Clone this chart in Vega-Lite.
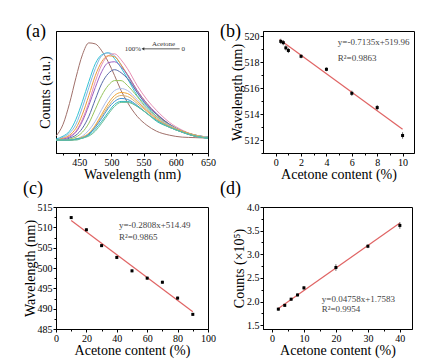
{
  "$schema": "https://vega.github.io/schema/vega-lite/v6.json",
  "background": "white",
  "padding": {"left": 22, "top": 22, "right": 5, "bottom": 5},
  "bounds": "flush",
  "columns": 2,
  "spacing": {"row": 54, "column": 55},
  "datasets": {
    "spec": [
      {"x": 414, "c1": 0.05, "c2": 0.02, "c3": 0.01, "c4": 0.01, "c5": 0.01, "c6": 0.01, "c7": 0.01, "c8": 0.01, "c9": 0.01, "c10": 0.01, "c11": 0.01, "c12": 0.01, "c13": 0.01, "c14": 0.01},
      {"x": 425, "c1": 0.17, "c2": 0.05, "c3": 0.04, "c4": 0.02, "c5": 0.03, "c6": 0.02, "c7": 0.01, "c8": 0.01, "c9": 0.01, "c10": 0.01, "c11": 0.01, "c12": 0.01, "c13": 0.01, "c14": 0.01},
      {"x": 435, "c1": 0.38, "c2": 0.10, "c3": 0.08, "c4": 0.05, "c5": 0.06, "c6": 0.04, "c7": 0.03, "c8": 0.02, "c9": 0.01, "c10": 0.01, "c11": 0.01, "c12": 0.01, "c13": 0.01, "c14": 0.01},
      {"x": 445, "c1": 0.64, "c2": 0.22, "c3": 0.17, "c4": 0.10, "c5": 0.13, "c6": 0.09, "c7": 0.06, "c8": 0.04, "c9": 0.02, "c10": 0.02, "c11": 0.02, "c12": 0.02, "c13": 0.02, "c14": 0.01},
      {"x": 455, "c1": 0.87, "c2": 0.40, "c3": 0.34, "c4": 0.22, "c5": 0.27, "c6": 0.20, "c7": 0.13, "c8": 0.09, "c9": 0.05, "c10": 0.04, "c11": 0.04, "c12": 0.03, "c13": 0.03, "c14": 0.03},
      {"x": 465, "c1": 0.99, "c2": 0.60, "c3": 0.54, "c4": 0.39, "c5": 0.46, "c6": 0.36, "c7": 0.25, "c8": 0.18, "c9": 0.11, "c10": 0.08, "c11": 0.07, "c12": 0.07, "c13": 0.06, "c14": 0.05},
      {"x": 475, "c1": 0.98, "c2": 0.78, "c3": 0.73, "c4": 0.60, "c5": 0.66, "c6": 0.54, "c7": 0.42, "c8": 0.32, "c9": 0.20, "c10": 0.16, "c11": 0.15, "c12": 0.14, "c13": 0.12, "c14": 0.10},
      {"x": 485, "c1": 0.91, "c2": 0.87, "c3": 0.86, "c4": 0.77, "c5": 0.80, "c6": 0.70, "c7": 0.58, "c8": 0.46, "c9": 0.32, "c10": 0.27, "c11": 0.25, "c12": 0.23, "c13": 0.20, "c14": 0.18},
      {"x": 495, "c1": 0.80, "c2": 0.89, "c3": 0.89, "c4": 0.86, "c5": 0.86, "c6": 0.79, "c7": 0.68, "c8": 0.56, "c9": 0.43, "c10": 0.38, "c11": 0.35, "c12": 0.33, "c13": 0.29, "c14": 0.27},
      {"x": 505, "c1": 0.66, "c2": 0.83, "c3": 0.86, "c4": 0.88, "c5": 0.85, "c6": 0.80, "c7": 0.72, "c8": 0.61, "c9": 0.51, "c10": 0.46, "c11": 0.43, "c12": 0.40, "c13": 0.37, "c14": 0.35},
      {"x": 515, "c1": 0.51, "c2": 0.74, "c3": 0.77, "c4": 0.82, "c5": 0.77, "c6": 0.75, "c7": 0.69, "c8": 0.61, "c9": 0.53, "c10": 0.49, "c11": 0.46, "c12": 0.43, "c13": 0.40, "c14": 0.39},
      {"x": 525, "c1": 0.39, "c2": 0.63, "c3": 0.66, "c4": 0.73, "c5": 0.67, "c6": 0.67, "c7": 0.63, "c8": 0.56, "c9": 0.51, "c10": 0.48, "c11": 0.45, "c12": 0.42, "c13": 0.40, "c14": 0.39},
      {"x": 540, "c1": 0.25, "c2": 0.46, "c3": 0.49, "c4": 0.56, "c5": 0.51, "c6": 0.51, "c7": 0.49, "c8": 0.45, "c9": 0.42, "c10": 0.40, "c11": 0.38, "c12": 0.36, "c13": 0.35, "c14": 0.35},
      {"x": 555, "c1": 0.16, "c2": 0.35, "c3": 0.37, "c4": 0.42, "c5": 0.38, "c6": 0.38, "c7": 0.36, "c8": 0.33, "c9": 0.32, "c10": 0.31, "c11": 0.30, "c12": 0.28, "c13": 0.28, "c14": 0.28},
      {"x": 570, "c1": 0.10, "c2": 0.25, "c3": 0.27, "c4": 0.31, "c5": 0.27, "c6": 0.28, "c7": 0.27, "c8": 0.25, "c9": 0.24, "c10": 0.23, "c11": 0.22, "c12": 0.21, "c13": 0.20, "c14": 0.21},
      {"x": 590, "c1": 0.06, "c2": 0.15, "c3": 0.16, "c4": 0.19, "c5": 0.17, "c6": 0.17, "c7": 0.17, "c8": 0.16, "c9": 0.16, "c10": 0.15, "c11": 0.15, "c12": 0.14, "c13": 0.14, "c14": 0.14},
      {"x": 610, "c1": 0.04, "c2": 0.09, "c3": 0.09, "c4": 0.11, "c5": 0.10, "c6": 0.10, "c7": 0.10, "c8": 0.10, "c9": 0.10, "c10": 0.10, "c11": 0.09, "c12": 0.09, "c13": 0.09, "c14": 0.09},
      {"x": 630, "c1": 0.035, "c2": 0.05, "c3": 0.05, "c4": 0.06, "c5": 0.05, "c6": 0.06, "c7": 0.06, "c8": 0.06, "c9": 0.06, "c10": 0.06, "c11": 0.06, "c12": 0.05, "c13": 0.05, "c14": 0.05},
      {"x": 650, "c1": 0.03, "c2": 0.03, "c3": 0.03, "c4": 0.04, "c5": 0.04, "c6": 0.04, "c7": 0.04, "c8": 0.04, "c9": 0.04, "c10": 0.03, "c11": 0.03, "c12": 0.03, "c13": 0.03, "c14": 0.03}
    ],
    "aArrow": [{"x": 549, "x2": 606, "y": 0.93}],
    "aLeft": [{"x": 546, "y": 0.93, "t": "100%"}],
    "aMid": [{"x": 581, "y": 0.98, "t": "Acetone"}],
    "aRight": [{"x": 609, "y": 0.93, "t": "0"}],
    "b": [
      {"x": 0.4, "y": 519.6, "lo": 519.4, "hi": 519.8},
      {"x": 0.6, "y": 519.5, "lo": 519.3, "hi": 519.7},
      {"x": 0.8, "y": 519.1, "lo": 518.9, "hi": 519.3},
      {"x": 1.0, "y": 518.9, "lo": 518.7, "hi": 519.1},
      {"x": 2, "y": 518.45, "lo": 518.3, "hi": 518.6},
      {"x": 4, "y": 517.45, "lo": 517.3, "hi": 517.6},
      {"x": 6, "y": 515.6, "lo": 515.4, "hi": 515.8},
      {"x": 8, "y": 514.5, "lo": 514.3, "hi": 514.7},
      {"x": 10, "y": 512.35, "lo": 512.1, "hi": 512.6}
    ],
    "bfit": [{"x": 0.3, "y": 519.75}, {"x": 10, "y": 512.83}],
    "bt": [{"x": 4.9, "y": 519.55, "t": "y=-0.7135x+519.96"}, {"x": 4.9, "y": 518.32, "t": "R²=0.9863"}],
    "c": [
      {"x": 10, "y": 512.4, "lo": 512.05, "hi": 512.75},
      {"x": 20, "y": 509.4, "lo": 509.05, "hi": 509.75},
      {"x": 30, "y": 505.5, "lo": 505.15, "hi": 505.85},
      {"x": 40, "y": 502.6, "lo": 502.2, "hi": 503.0},
      {"x": 50, "y": 499.3, "lo": 498.95, "hi": 499.65},
      {"x": 60, "y": 497.5, "lo": 497.15, "hi": 497.85},
      {"x": 70, "y": 496.5, "lo": 496.15, "hi": 496.85},
      {"x": 80, "y": 492.6, "lo": 492.25, "hi": 492.95},
      {"x": 90, "y": 488.6, "lo": 488.25, "hi": 488.95}
    ],
    "cfit": [{"x": 10, "y": 511.68}, {"x": 90, "y": 489.22}],
    "ct": [{"x": 41.4, "y": 510.6, "t": "y=-0.2808x+514.49"}, {"x": 41.4, "y": 507.6, "t": "R²=0.9865"}],
    "d": [
      {"x": 2, "y": 1.84, "lo": 1.81, "hi": 1.87},
      {"x": 4, "y": 1.92, "lo": 1.89, "hi": 1.95},
      {"x": 6, "y": 2.05, "lo": 2.02, "hi": 2.08},
      {"x": 8, "y": 2.14, "lo": 2.11, "hi": 2.17},
      {"x": 10, "y": 2.29, "lo": 2.25, "hi": 2.33},
      {"x": 20, "y": 2.72, "lo": 2.65, "hi": 2.79},
      {"x": 30, "y": 3.17, "lo": 3.13, "hi": 3.21},
      {"x": 40, "y": 3.61, "lo": 3.54, "hi": 3.68}
    ],
    "dfit": [{"x": 2, "y": 1.853}, {"x": 40, "y": 3.661}],
    "dt": [{"x": 15.6, "y": 2.05, "t": "y=0.04758x+1.7583"}, {"x": 15.6, "y": 1.85, "t": "R²=0.9954"}]
  },
  "concat": [
    {
      "width": 152,
      "height": 122,
      "title": {"text": "(a)", "dx": -30, "offset": -10},
      "encoding": {
        "x": {"field": "x", "type": "quantitative", "scale": {"domain": [414, 650], "nice": false, "zero": false},
          "axis": {"title": "Wavelength (nm)", "values": [425, 450, 475, 500, 525, 550, 575, 600, 625, 650], "labelExpr": "datum.value % 50 == 0 ? datum.label : ''", "tickSize": {"condition": {"test": "datum.value % 50 == 0", "value": 3}, "value": 2}, "labelOverlap": false, "labelFlush": false}},
        "y": {"field": "y", "type": "quantitative", "scale": {"domain": [-0.12, 1.11], "nice": false, "zero": false},
          "axis": {"title": "Counts (a.u.)", "labels": false, "ticks": false, "titlePadding": 4}}
      },
      "layer": [
        {
          "data": {"name": "spec"},
          "transform": [{"fold": ["c1", "c2", "c3", "c4", "c5", "c6", "c7", "c8", "c9", "c10", "c11", "c12", "c13", "c14"], "as": ["key", "y"]}],
          "mark": {"type": "line", "strokeWidth": 1, "interpolate": "monotone"},
          "encoding": {
            "color": {"field": "key", "type": "nominal", "legend": null,
              "scale": {"domain": ["c1", "c2", "c3", "c4", "c5", "c6", "c7", "c8", "c9", "c10", "c11", "c12", "c13", "c14"],
                "range": ["#a0706a", "#33c3d6", "#82b4e0", "#e88fb4", "#e99a3c", "#9b62c4", "#586aa8", "#97c45c", "#aebde8", "#f0a53a", "#d9b070", "#3f8fd2", "#2fb9bd", "#6cbf98"]}}
          }
        },
        {"data": {"name": "aArrow"}, "mark": {"type": "rule", "color": "#333", "strokeWidth": 0.8}, "encoding": {"x2": {"field": "x2"}}},
        {"data": {"name": "aArrow"}, "mark": {"type": "point", "shape": "triangle-left", "filled": true, "color": "#333", "size": 10, "opacity": 1}},
        {"data": {"name": "aLeft"}, "mark": {"type": "text", "align": "right", "baseline": "middle", "fontSize": 7, "color": "#333"}, "encoding": {"text": {"field": "t"}}},
        {"data": {"name": "aMid"}, "mark": {"type": "text", "align": "center", "baseline": "middle", "fontSize": 7, "color": "#333"}, "encoding": {"text": {"field": "t"}}},
        {"data": {"name": "aRight"}, "mark": {"type": "text", "align": "left", "baseline": "middle", "fontSize": 7, "color": "#333"}, "encoding": {"text": {"field": "t"}}}
      ]
    },
    {
      "width": 151,
      "height": 122,
      "title": {"text": "(b)", "dx": -43, "offset": -10},
      "encoding": {
        "x": {"field": "x", "type": "quantitative", "scale": {"domain": [-1, 10.9], "nice": false, "zero": false},
          "axis": {"title": "Acetone content (%)", "values": [0, 1, 2, 3, 4, 5, 6, 7, 8, 9, 10], "labelExpr": "datum.value % 2 == 0 ? datum.label : ''", "tickSize": {"condition": {"test": "datum.value % 2 == 0", "value": 3}, "value": 2}, "labelOverlap": false, "labelFlush": false}},
        "y": {"field": "y", "type": "quantitative", "scale": {"domain": [511, 520.4], "nice": false, "zero": false},
          "axis": {"title": "Wavelength (nm)", "values": [511, 512, 513, 514, 515, 516, 517, 518, 519, 520], "labelExpr": "datum.value % 2 == 0 ? datum.label : ''", "tickSize": {"condition": {"test": "datum.value % 2 == 0", "value": 3}, "value": 2}, "labelOverlap": false, "labelFlush": false}}
      },
      "layer": [
        {"data": {"name": "bfit"}, "mark": {"type": "line", "color": "#e06464", "strokeWidth": 1.2}},
        {"data": {"name": "b"}, "mark": {"type": "rule", "color": "#444", "strokeWidth": 0.8},
          "encoding": {"y": {"field": "lo", "type": "quantitative", "scale": {"domain": [511, 520.4], "nice": false, "zero": false}, "axis": {"title": "Wavelength (nm)", "values": [511, 512, 513, 514, 515, 516, 517, 518, 519, 520], "labelExpr": "datum.value % 2 == 0 ? datum.label : ''", "tickSize": {"condition": {"test": "datum.value % 2 == 0", "value": 3}, "value": 2}, "labelOverlap": false, "labelFlush": false}}, "y2": {"field": "hi"}}},
        {"data": {"name": "b"}, "mark": {"type": "square", "color": "black", "opacity": 1, "size": 9}},
        {"data": {"name": "bt"}, "mark": {"type": "text", "align": "left", "baseline": "middle", "fontSize": 9, "color": "#444"}, "encoding": {"text": {"field": "t"}}}
      ]
    },
    {
      "width": 152,
      "height": 122,
      "title": {"text": "(c)", "dx": -33, "offset": 4},
      "encoding": {
        "x": {"field": "x", "type": "quantitative", "scale": {"domain": [0, 100], "nice": false, "zero": false},
          "axis": {"title": "Acetone content (%)", "values": [0, 10, 20, 30, 40, 50, 60, 70, 80, 90, 100], "labelExpr": "datum.value % 20 == 0 ? datum.label : ''", "tickSize": {"condition": {"test": "datum.value % 20 == 0", "value": 3}, "value": 2}, "labelOverlap": false, "labelFlush": false}},
        "y": {"field": "y", "type": "quantitative", "scale": {"domain": [485, 515], "nice": false, "zero": false},
          "axis": {"title": "Wavelength (nm)", "values": [485, 487.5, 490, 492.5, 495, 497.5, 500, 502.5, 505, 507.5, 510, 512.5, 515], "labelExpr": "datum.value % 5 == 0 ? datum.label : ''", "tickSize": {"condition": {"test": "datum.value % 5 == 0", "value": 3}, "value": 2}, "labelOverlap": false, "labelFlush": false}}
      },
      "layer": [
        {"data": {"name": "cfit"}, "mark": {"type": "line", "color": "#e06464", "strokeWidth": 1.2}},
        {"data": {"name": "c"}, "mark": {"type": "rule", "color": "#444", "strokeWidth": 0.8},
          "encoding": {"y": {"field": "lo", "type": "quantitative", "scale": {"domain": [485, 515], "nice": false, "zero": false}, "axis": {"title": "Wavelength (nm)", "values": [485, 487.5, 490, 492.5, 495, 497.5, 500, 502.5, 505, 507.5, 510, 512.5, 515], "labelExpr": "datum.value % 5 == 0 ? datum.label : ''", "tickSize": {"condition": {"test": "datum.value % 5 == 0", "value": 3}, "value": 2}, "labelOverlap": false, "labelFlush": false}}, "y2": {"field": "hi"}}},
        {"data": {"name": "c"}, "mark": {"type": "square", "color": "black", "opacity": 1, "size": 9}},
        {"data": {"name": "ct"}, "mark": {"type": "text", "align": "left", "baseline": "middle", "fontSize": 9, "color": "#444"}, "encoding": {"text": {"field": "t"}}}
      ]
    },
    {
      "width": 149,
      "height": 122,
      "title": {"text": "(d)", "dx": -43, "offset": 4},
      "encoding": {
        "x": {"field": "x", "type": "quantitative", "scale": {"domain": [-2.8, 43.8], "nice": false, "zero": false},
          "axis": {"title": "Acetone content (%)", "values": [0, 5, 10, 15, 20, 25, 30, 35, 40], "labelExpr": "datum.value % 10 == 0 ? datum.label : ''", "tickSize": {"condition": {"test": "datum.value % 10 == 0", "value": 3}, "value": 2}, "labelOverlap": false, "labelFlush": false}},
        "y": {"field": "y", "type": "quantitative", "scale": {"domain": [1.42, 4.0], "nice": false, "zero": false},
          "axis": {"title": "Counts (×10⁵)", "format": ".1f", "values": [1.5, 1.75, 2, 2.25, 2.5, 2.75, 3, 3.25, 3.5, 3.75, 4], "labelExpr": "round(datum.value * 4) % 2 == 0 ? datum.label : ''", "tickSize": {"condition": {"test": "round(datum.value * 4) % 2 == 0", "value": 3}, "value": 2}, "labelOverlap": false, "labelFlush": false}}
      },
      "layer": [
        {"data": {"name": "dfit"}, "mark": {"type": "line", "color": "#e06464", "strokeWidth": 1.2}},
        {"data": {"name": "d"}, "mark": {"type": "rule", "color": "#444", "strokeWidth": 0.8},
          "encoding": {"y": {"field": "lo", "type": "quantitative", "scale": {"domain": [1.42, 4.0], "nice": false, "zero": false}, "axis": {"title": "Counts (×10⁵)", "format": ".1f", "values": [1.5, 1.75, 2, 2.25, 2.5, 2.75, 3, 3.25, 3.5, 3.75, 4], "labelExpr": "round(datum.value * 4) % 2 == 0 ? datum.label : ''", "tickSize": {"condition": {"test": "round(datum.value * 4) % 2 == 0", "value": 3}, "value": 2}, "labelOverlap": false, "labelFlush": false}}, "y2": {"field": "hi"}}},
        {"data": {"name": "d"}, "mark": {"type": "square", "color": "black", "opacity": 1, "size": 9}},
        {"data": {"name": "dt"}, "mark": {"type": "text", "align": "left", "baseline": "middle", "fontSize": 9, "color": "#444"}, "encoding": {"text": {"field": "t"}}}
      ]
    }
  ],
  "config": {
    "font": "Liberation Serif, Times New Roman, serif",
    "view": {"stroke": "black", "strokeWidth": 1},
    "axis": {"grid": false, "domainColor": "black", "tickColor": "black", "labelColor": "black", "titleColor": "black", "labelFont": "Liberation Serif, Times New Roman, serif", "titleFont": "Liberation Serif, Times New Roman, serif", "labelFontSize": 10, "titleFontSize": 14, "titleFontWeight": "normal", "tickSize": 3, "labelPadding": 1, "titlePadding": 0},
    "title": {"font": "Liberation Serif, Times New Roman, serif", "fontSize": 18, "fontWeight": "normal", "anchor": "start", "frame": "group", "color": "black"},
    "text": {"font": "Liberation Serif, Times New Roman, serif"}
  }
}
